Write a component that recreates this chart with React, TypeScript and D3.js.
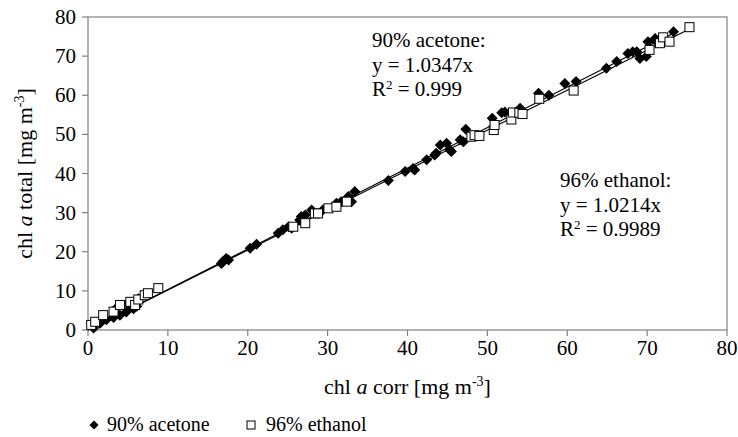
import React from "react";
import * as d3 from "d3";

const acetoneX = [0.7, 1.5, 2.3, 3.2, 4, 4.8, 5.7, 6.1, 6.3, 3.5, 5, 16.7, 16.9, 17.3, 17.6, 20.3, 21.1, 23.8, 24.4, 25.1, 25.5, 26.5, 26.7, 27.2, 28, 29.4, 31.1, 31.7, 32.6, 33.4, 33, 37.6, 39.7, 40.7, 40.9, 42.4, 43.4, 43.6, 44.1, 44.9, 45.3, 45.5, 46.6, 47, 47.3, 50.6, 51.8, 52.2, 54.1, 56.4, 57.7, 59.7, 61.1, 64.9, 66.2, 67.6, 68.2, 68.7, 69.1, 69.9, 70.1, 71, 71.2, 73.3];
const acetoneY = [0.5, 1.7, 2.6, 3.2, 3.8, 4.6, 5.4, 6.1, 8, 5.5, 6.8, 17, 17.5, 18.3, 17.9, 20.9, 21.9, 24.7, 25.6, 26.4, 26, 28.1, 29, 29.4, 30.7, 30.7, 32.4, 32.8, 34.1, 35.4, 32.8, 38.2, 40.5, 41.3, 40.9, 43.5, 44.7, 45.2, 47.3, 47.7, 46, 45.6, 48.6, 48.1, 51.3, 54.1, 55.5, 55.7, 56.7, 60.5, 60, 63, 63.5, 66.9, 68.6, 70.7, 71.1, 71.1, 69.4, 69.9, 73.7, 74.5, 73.7, 76.2];
const ethanolX = [0.4, 0.9, 1.9, 3.2, 4, 5.3, 5.9, 6.3, 7.1, 7.5, 8.8, 25.7, 27.2, 28.4, 28.8, 30.1, 31.1, 32.4, 48, 48.4, 49, 50.8, 50.9, 53, 53.2, 54, 54.4, 56.5, 60.8, 70.3, 71.6, 72, 72.8, 75.3];
const ethanolY = [1.3, 2.1, 3.8, 4.7, 6.4, 7.2, 6.4, 7.8, 8.9, 9.4, 10.7, 26.4, 27.3, 29.8, 29.8, 31.1, 31.5, 32.8, 49.4, 49.8, 49.6, 51.1, 52.4, 53.8, 55.6, 55.5, 55.2, 59.1, 61.2, 71.6, 73.3, 74.8, 73.7, 77.4];
const slopes = [1.0347, 1.0214];
const xTicks = [0, 10, 20, 30, 40, 50, 60, 70, 80];
const yTicks = [0, 10, 20, 30, 40, 50, 60, 70, 80];

const W = 738, H = 437;
const L = 88, R = 727, T = 17, B = 330;
const FONT = "'Liberation Serif', 'DejaVu Serif', serif";
const AX = "#808080";

export default function App() {
  const x = d3.scaleLinear().domain([0, 80]).range([L, R]);
  const y = d3.scaleLinear().domain([0, 80]).range([B, T]);
  const diamond = (cx: number, cy: number, r: number) => `M${cx},${cy - r}L${cx + r},${cy}L${cx},${cy + r}L${cx - r},${cy}Z`;
  const line = d3.line<[number, number]>().x(d => x(d[0])).y(d => y(d[1]));
  const maxA = d3.max(acetoneX) as number;
  const maxE = d3.max(ethanolX) as number;
  const ts = { fontFamily: FONT, fill: "#000" };
  return (
    <svg width={W} height={H} style={{ position: "absolute", left: 0, top: 0, background: "#fff", fontFamily: FONT }}>
      <rect x={0} y={0} width={W} height={H} fill="#fff" />
      <rect x={L} y={T} width={R - L} height={B - T} fill="none" stroke={AX} strokeWidth={1.2} />
      {xTicks.map(t => (
        <g key={"x" + t}>
          <line x1={x(t)} x2={x(t)} y1={B} y2={B + 6} stroke={AX} strokeWidth={1.2} />
          <text style={ts} textAnchor="middle" fontSize={21}><tspan x={x(t)} y={B + 25}>{String(t)}</tspan></text>
        </g>
      ))}
      {yTicks.map(t => (
        <g key={"y" + t}>
          <line x1={L - 6} x2={L} y1={y(t)} y2={y(t)} stroke={AX} strokeWidth={1.2} />
          <text style={ts} textAnchor="end" fontSize={21}><tspan x={L - 12} y={y(t) + 7}>{String(t)}</tspan></text>
        </g>
      ))}
      <path d={line([[0, 0], [maxA, maxA * slopes[0]]]) || ""} stroke="#000" strokeWidth={1.2} fill="none" />
      <path d={line([[0, 0], [maxE, maxE * slopes[1]]]) || ""} stroke="#000" strokeWidth={1.2} fill="none" />
      {acetoneX.map((v, i) => (
        <path key={"a" + i} d={diamond(x(v), y(acetoneY[i]), 5.5)} fill="#000" />
      ))}
      {ethanolX.map((v, i) => (
        <rect key={"e" + i} x={x(v) - 4.5} y={y(ethanolY[i]) - 4.5} width={9} height={9} fill="#fff" stroke="#000" strokeWidth={1} />
      ))}
      <text style={ts} fontSize={21} x={372} y={47}>90% acetone:</text>
      <text style={ts} fontSize={21} x={372} y={71.5}>y = 1.0347x</text>
      <text style={ts} fontSize={21} x={372} y={96}>R<tspan fontSize={13} dy={-7}>2</tspan><tspan dy={7}> = 0.999</tspan></text>
      <text style={ts} fontSize={21} x={560} y={187}>96% ethanol:</text>
      <text style={ts} fontSize={21} x={560} y={211.5}>y = 1.0214x</text>
      <text style={ts} fontSize={21} x={560} y={236}>R<tspan fontSize={13} dy={-7}>2</tspan><tspan dy={7}> = 0.9989</tspan></text>
      <text style={ts} x={(L + R) / 2} y={394} textAnchor="middle" fontSize={22}>
        chl <tspan fontStyle="italic">a</tspan> corr [mg m<tspan fontSize={14} dy={-8}>-3</tspan><tspan dy={8}>]</tspan>
      </text>
      <text style={ts} transform={`translate(32,${(T + B) / 2}) rotate(-90)`} textAnchor="middle" fontSize={22}>
        chl <tspan fontStyle="italic">a</tspan> total [mg m<tspan fontSize={14} dy={-8}>-3</tspan><tspan dy={8}>]</tspan>
      </text>
      <path d={diamond(94, 425, 4.5)} fill="#000" />
      <text style={ts} fontSize={20} x={107} y={431}>90% acetone</text>
      <rect x={247} y={421} width={8} height={8} fill="#fff" stroke="#000" strokeWidth={1} />
      <text style={ts} fontSize={20} x={266} y={431}>96% ethanol</text>
    </svg>
  );
}
